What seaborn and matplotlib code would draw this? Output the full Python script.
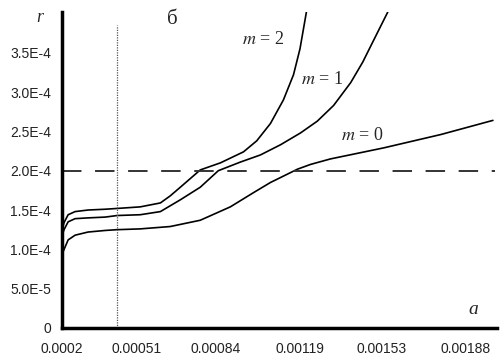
import numpy as np
import pandas as pd
import seaborn as sns
import matplotlib
matplotlib.use("Agg")
import matplotlib.pyplot as plt

# curve data (a, r)
a_m0 = [0.000200, 0.000204, 0.000225, 0.000254, 0.000308, 0.000379, 0.000429, 0.000525,
        0.000650, 0.000775, 0.000900, 0.000996, 0.001067, 0.001180, 0.001234, 0.001317,
        0.001538, 0.001776, 0.001993]
r_m0 = [0.90e-4, 0.97e-4, 1.12e-4, 1.18e-4, 1.22e-4, 1.24e-4, 1.25e-4, 1.26e-4,
        1.29e-4, 1.37e-4, 1.54e-4, 1.72e-4, 1.85e-4, 2.02e-4, 2.08e-4, 2.15e-4,
        2.29e-4, 2.46e-4, 2.64e-4]

a_m1 = [0.000200, 0.000208, 0.000225, 0.000254, 0.000308, 0.000379, 0.000429, 0.000525,
        0.000609, 0.000692, 0.000775, 0.000850, 0.000942, 0.001025, 0.001109, 0.001192,
        0.001262, 0.001330, 0.001401, 0.001451, 0.001500, 0.001559]
r_m1 = [1.18e-4, 1.25e-4, 1.35e-4, 1.39e-4, 1.40e-4, 1.41e-4, 1.43e-4, 1.44e-4,
        1.48e-4, 1.63e-4, 1.79e-4, 2.00e-4, 2.11e-4, 2.20e-4, 2.33e-4, 2.48e-4,
        2.63e-4, 2.83e-4, 3.12e-4, 3.38e-4, 3.68e-4, 4.04e-4]

a_m2 = [0.000200, 0.000208, 0.000225, 0.000254, 0.000308, 0.000379, 0.000429, 0.000525,
        0.000609, 0.000650, 0.000692, 0.000775, 0.000859, 0.000955, 0.001010, 0.001067,
        0.001121, 0.001163, 0.001190, 0.001218]
r_m2 = [1.25e-4, 1.34e-4, 1.44e-4, 1.48e-4, 1.50e-4, 1.51e-4, 1.52e-4, 1.54e-4,
        1.59e-4, 1.68e-4, 1.79e-4, 2.01e-4, 2.10e-4, 2.24e-4, 2.38e-4, 2.60e-4,
        2.90e-4, 3.22e-4, 3.55e-4, 4.04e-4]

x_ticks = [0.0002, 0.00051, 0.00084, 0.00119, 0.00153, 0.00188]
x_labels = ["0.0002", "0.00051", "0.00084", "0.00119", "0.00153", "0.00188"]
y_ticks = [0, 5e-5, 1e-4, 1.5e-4, 2e-4, 2.5e-4, 3e-4, 3.5e-4]
y_labels = ["0", "5.0E-5", "1.0E-4", "1.5E-4", "2.0E-4", "2.5E-4", "3.0E-4", "3.5E-4"]
r_level = 2.0e-4
a_mark = 0.000429

df = pd.concat([
    pd.DataFrame({"a": a_m0, "r": r_m0, "m": "0"}),
    pd.DataFrame({"a": a_m1, "r": r_m1, "m": "1"}),
    pd.DataFrame({"a": a_m2, "r": r_m2, "m": "2"}),
])

sns.set_style("white")
plt.rcParams["font.family"] = ["Liberation Sans", "DejaVu Sans"]
plt.rcParams["mathtext.fontset"] = "stix"

fig = plt.figure(figsize=(5.01, 3.6), dpi=100)
ax = fig.add_axes([0.124, 0.089, 0.868, 0.878])

sns.lineplot(data=df, x="a", y="r", hue="m", palette=["black"] * 3,
             linewidth=1.2, legend=False, ax=ax, sort=False, estimator=None)

ax.axhline(r_level, color="#333333", lw=1.4, dashes=(10, 7), xmax=0.995)
ax.plot([a_mark, a_mark], [0, 3.85e-4], color="#555555", lw=0.9, ls=(0, (1, 1)))

ax.set_xlim(0.0002, 0.00201)
ax.set_ylim(0, 4.02e-4)
ax.set_xticks(x_ticks)
ax.set_xticklabels(x_labels)
ax.set_yticks(y_ticks)
ax.set_yticklabels(y_labels)
ax.tick_params(axis="both", length=0, labelsize=10, labelcolor="#222222")
ax.tick_params(axis="x", pad=10)
ax.tick_params(axis="y", pad=8)
ax.set_xlabel("")
ax.set_ylabel("")

sns.despine(ax=ax)
for s in ["left", "bottom"]:
    ax.spines[s].set_linewidth(2.5)
    ax.spines[s].set_color("black")

serif = ["Liberation Serif", "DejaVu Serif"]
fig.text(40 / 501, 1 - 17 / 360, "r", style="italic", family=serif, fontsize=13,
         ha="center", va="center")
fig.text(172 / 501, 1 - 20 / 360, "б", family=serif, fontsize=15, ha="center", va="center")
fig.text(473 / 501, 1 - 310 / 360, "a", style="italic", family=serif, fontsize=14,
         ha="center", va="center")
fig.text(263 / 501, 1 - 40 / 360, "$m$ = 2", family=serif, fontsize=13, ha="center",
         va="center")
fig.text(322 / 501, 1 - 80 / 360, "$m$ = 1", family=serif, fontsize=13, ha="center",
         va="center")
fig.text(362 / 501, 1 - 136 / 360, "$m$ = 0", family=serif, fontsize=13, ha="center",
         va="center")

fig.savefig("out.png", dpi=100)
